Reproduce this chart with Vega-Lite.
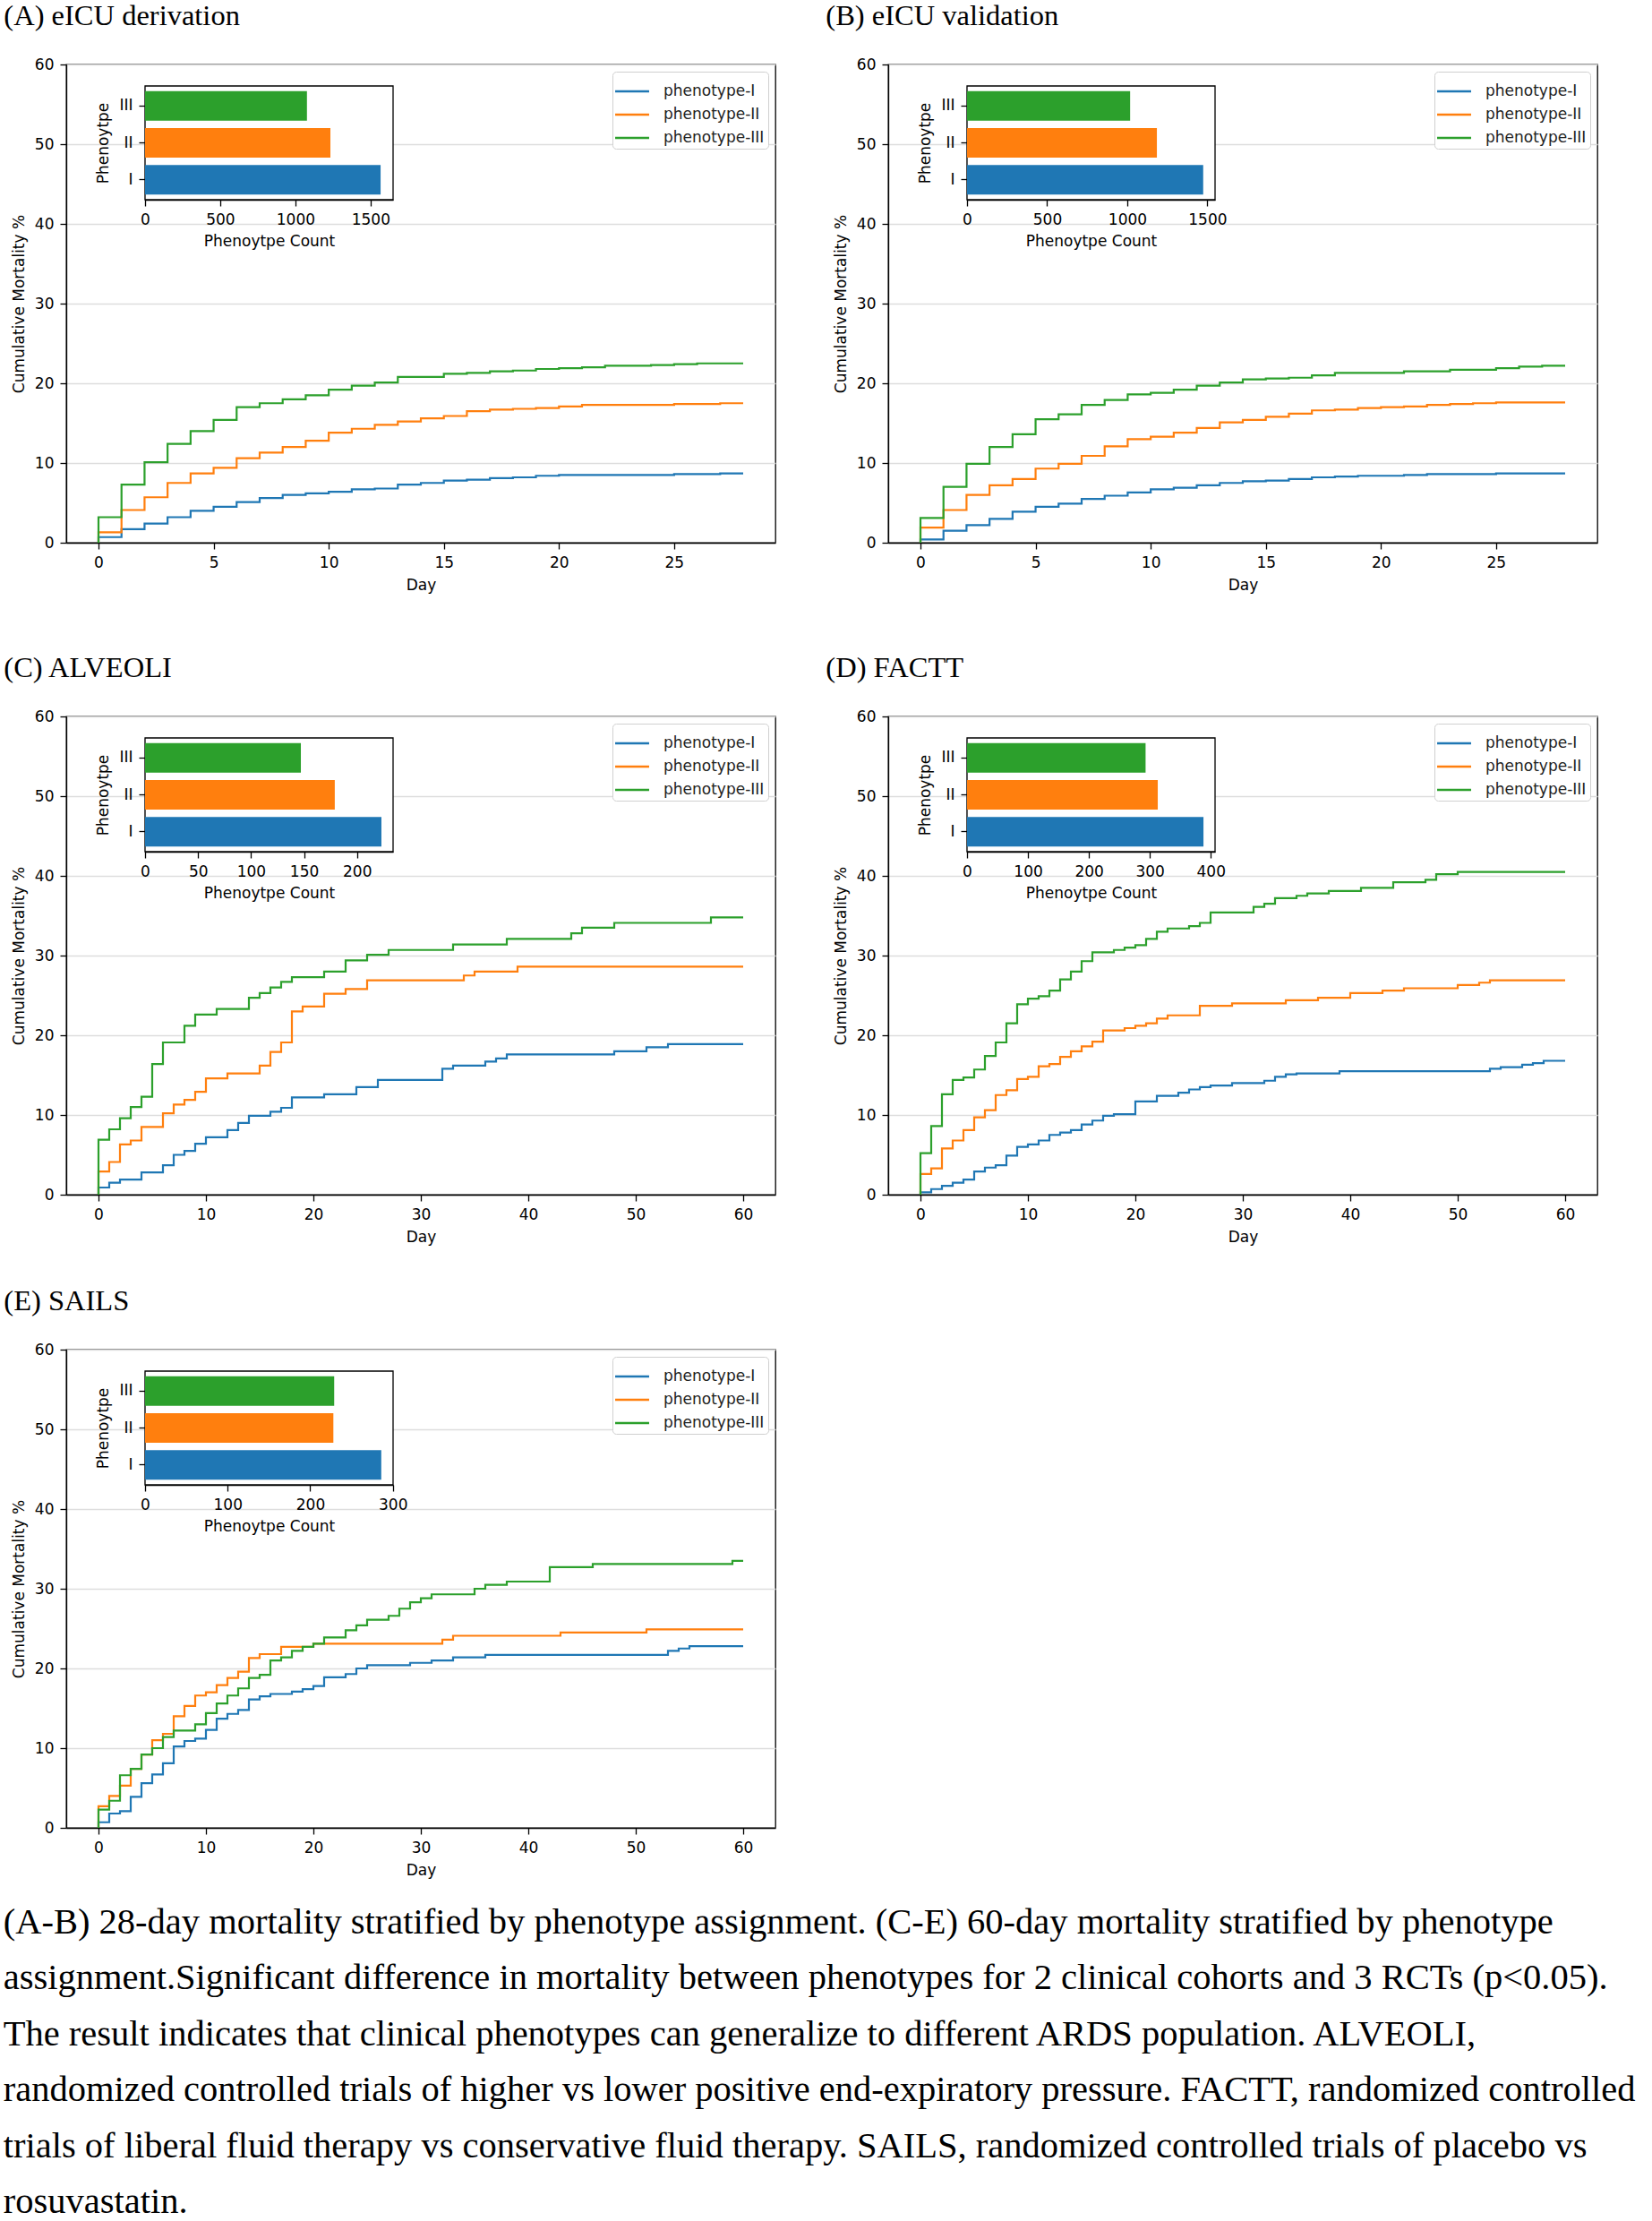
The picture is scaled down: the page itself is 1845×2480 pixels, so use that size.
{
"$schema": "https://vega.github.io/schema/vega-lite/v6.json",
"background": "white",
"padding": {"left": 3, "top": 0, "right": 0, "bottom": 0},
"datasets": {
"cA": [
{"phenotype":"phenotype-I","day":0,"mortality":0},{"phenotype":"phenotype-I","day":0,"mortality":0.7},{"phenotype":"phenotype-I","day":1,"mortality":1.7},{"phenotype":"phenotype-I","day":2,"mortality":2.4},{"phenotype":"phenotype-I","day":3,"mortality":3.2},{"phenotype":"phenotype-I","day":4,"mortality":4.0},{"phenotype":"phenotype-I","day":5,"mortality":4.5},{"phenotype":"phenotype-I","day":6,"mortality":5.1},{"phenotype":"phenotype-I","day":7,"mortality":5.6},{"phenotype":"phenotype-I","day":8,"mortality":6.0},{"phenotype":"phenotype-I","day":9,"mortality":6.2},{"phenotype":"phenotype-I","day":10,"mortality":6.4},{"phenotype":"phenotype-I","day":11,"mortality":6.7},{"phenotype":"phenotype-I","day":12,"mortality":6.8},{"phenotype":"phenotype-I","day":13,"mortality":7.3},{"phenotype":"phenotype-I","day":14,"mortality":7.5},{"phenotype":"phenotype-I","day":15,"mortality":7.8},{"phenotype":"phenotype-I","day":16,"mortality":7.9},{"phenotype":"phenotype-I","day":17,"mortality":8.1},{"phenotype":"phenotype-I","day":18,"mortality":8.2},{"phenotype":"phenotype-I","day":19,"mortality":8.4},{"phenotype":"phenotype-I","day":20,"mortality":8.5},{"phenotype":"phenotype-I","day":25,"mortality":8.6},{"phenotype":"phenotype-I","day":27,"mortality":8.7},{"phenotype":"phenotype-I","day":28,"mortality":8.7},
{"phenotype":"phenotype-II","day":0,"mortality":0},{"phenotype":"phenotype-II","day":0,"mortality":1.3},{"phenotype":"phenotype-II","day":1,"mortality":4.1},{"phenotype":"phenotype-II","day":2,"mortality":5.7},{"phenotype":"phenotype-II","day":3,"mortality":7.5},{"phenotype":"phenotype-II","day":4,"mortality":8.7},{"phenotype":"phenotype-II","day":5,"mortality":9.4},{"phenotype":"phenotype-II","day":6,"mortality":10.6},{"phenotype":"phenotype-II","day":7,"mortality":11.3},{"phenotype":"phenotype-II","day":8,"mortality":12.0},{"phenotype":"phenotype-II","day":9,"mortality":12.8},{"phenotype":"phenotype-II","day":10,"mortality":13.8},{"phenotype":"phenotype-II","day":11,"mortality":14.3},{"phenotype":"phenotype-II","day":12,"mortality":14.8},{"phenotype":"phenotype-II","day":13,"mortality":15.2},{"phenotype":"phenotype-II","day":14,"mortality":15.6},{"phenotype":"phenotype-II","day":15,"mortality":15.9},{"phenotype":"phenotype-II","day":16,"mortality":16.5},{"phenotype":"phenotype-II","day":17,"mortality":16.7},{"phenotype":"phenotype-II","day":18,"mortality":16.8},{"phenotype":"phenotype-II","day":19,"mortality":16.9},{"phenotype":"phenotype-II","day":20,"mortality":17.1},{"phenotype":"phenotype-II","day":21,"mortality":17.3},{"phenotype":"phenotype-II","day":25,"mortality":17.4},{"phenotype":"phenotype-II","day":27,"mortality":17.5},{"phenotype":"phenotype-II","day":28,"mortality":17.5},
{"phenotype":"phenotype-III","day":0,"mortality":0},{"phenotype":"phenotype-III","day":0,"mortality":3.2},{"phenotype":"phenotype-III","day":1,"mortality":7.3},{"phenotype":"phenotype-III","day":2,"mortality":10.1},{"phenotype":"phenotype-III","day":3,"mortality":12.4},{"phenotype":"phenotype-III","day":4,"mortality":14.0},{"phenotype":"phenotype-III","day":5,"mortality":15.4},{"phenotype":"phenotype-III","day":6,"mortality":17.0},{"phenotype":"phenotype-III","day":7,"mortality":17.5},{"phenotype":"phenotype-III","day":8,"mortality":18.0},{"phenotype":"phenotype-III","day":9,"mortality":18.5},{"phenotype":"phenotype-III","day":10,"mortality":19.2},{"phenotype":"phenotype-III","day":11,"mortality":19.7},{"phenotype":"phenotype-III","day":12,"mortality":20.1},{"phenotype":"phenotype-III","day":13,"mortality":20.8},{"phenotype":"phenotype-III","day":15,"mortality":21.2},{"phenotype":"phenotype-III","day":16,"mortality":21.3},{"phenotype":"phenotype-III","day":17,"mortality":21.5},{"phenotype":"phenotype-III","day":18,"mortality":21.6},{"phenotype":"phenotype-III","day":19,"mortality":21.8},{"phenotype":"phenotype-III","day":20,"mortality":21.9},{"phenotype":"phenotype-III","day":21,"mortality":22.0},{"phenotype":"phenotype-III","day":22,"mortality":22.2},{"phenotype":"phenotype-III","day":24,"mortality":22.3},{"phenotype":"phenotype-III","day":25,"mortality":22.4},{"phenotype":"phenotype-III","day":26,"mortality":22.5},{"phenotype":"phenotype-III","day":28,"mortality":22.5}
],
"cB": [
{"phenotype":"phenotype-I","day":0,"mortality":0},{"phenotype":"phenotype-I","day":0,"mortality":0.4},{"phenotype":"phenotype-I","day":1,"mortality":1.5},{"phenotype":"phenotype-I","day":2,"mortality":2.2},{"phenotype":"phenotype-I","day":3,"mortality":3.0},{"phenotype":"phenotype-I","day":4,"mortality":3.9},{"phenotype":"phenotype-I","day":5,"mortality":4.5},{"phenotype":"phenotype-I","day":6,"mortality":4.9},{"phenotype":"phenotype-I","day":7,"mortality":5.5},{"phenotype":"phenotype-I","day":8,"mortality":5.9},{"phenotype":"phenotype-I","day":9,"mortality":6.3},{"phenotype":"phenotype-I","day":10,"mortality":6.7},{"phenotype":"phenotype-I","day":11,"mortality":6.9},{"phenotype":"phenotype-I","day":12,"mortality":7.2},{"phenotype":"phenotype-I","day":13,"mortality":7.5},{"phenotype":"phenotype-I","day":14,"mortality":7.7},{"phenotype":"phenotype-I","day":15,"mortality":7.8},{"phenotype":"phenotype-I","day":16,"mortality":8.0},{"phenotype":"phenotype-I","day":17,"mortality":8.2},{"phenotype":"phenotype-I","day":18,"mortality":8.3},{"phenotype":"phenotype-I","day":19,"mortality":8.4},{"phenotype":"phenotype-I","day":21,"mortality":8.5},{"phenotype":"phenotype-I","day":22,"mortality":8.6},{"phenotype":"phenotype-I","day":25,"mortality":8.7},{"phenotype":"phenotype-I","day":28,"mortality":8.7},
{"phenotype":"phenotype-II","day":0,"mortality":0},{"phenotype":"phenotype-II","day":0,"mortality":1.9},{"phenotype":"phenotype-II","day":1,"mortality":4.1},{"phenotype":"phenotype-II","day":2,"mortality":6.0},{"phenotype":"phenotype-II","day":3,"mortality":7.2},{"phenotype":"phenotype-II","day":4,"mortality":8.0},{"phenotype":"phenotype-II","day":5,"mortality":9.3},{"phenotype":"phenotype-II","day":6,"mortality":9.9},{"phenotype":"phenotype-II","day":7,"mortality":10.9},{"phenotype":"phenotype-II","day":8,"mortality":12.1},{"phenotype":"phenotype-II","day":9,"mortality":13.0},{"phenotype":"phenotype-II","day":10,"mortality":13.3},{"phenotype":"phenotype-II","day":11,"mortality":13.8},{"phenotype":"phenotype-II","day":12,"mortality":14.4},{"phenotype":"phenotype-II","day":13,"mortality":15.1},{"phenotype":"phenotype-II","day":14,"mortality":15.4},{"phenotype":"phenotype-II","day":15,"mortality":15.8},{"phenotype":"phenotype-II","day":16,"mortality":16.2},{"phenotype":"phenotype-II","day":17,"mortality":16.6},{"phenotype":"phenotype-II","day":18,"mortality":16.7},{"phenotype":"phenotype-II","day":19,"mortality":16.9},{"phenotype":"phenotype-II","day":20,"mortality":17.0},{"phenotype":"phenotype-II","day":21,"mortality":17.1},{"phenotype":"phenotype-II","day":22,"mortality":17.3},{"phenotype":"phenotype-II","day":23,"mortality":17.4},{"phenotype":"phenotype-II","day":24,"mortality":17.5},{"phenotype":"phenotype-II","day":25,"mortality":17.6},{"phenotype":"phenotype-II","day":28,"mortality":17.6},
{"phenotype":"phenotype-III","day":0,"mortality":0},{"phenotype":"phenotype-III","day":0,"mortality":3.1},{"phenotype":"phenotype-III","day":1,"mortality":7.0},{"phenotype":"phenotype-III","day":2,"mortality":9.9},{"phenotype":"phenotype-III","day":3,"mortality":12.0},{"phenotype":"phenotype-III","day":4,"mortality":13.6},{"phenotype":"phenotype-III","day":5,"mortality":15.5},{"phenotype":"phenotype-III","day":6,"mortality":16.1},{"phenotype":"phenotype-III","day":7,"mortality":17.3},{"phenotype":"phenotype-III","day":8,"mortality":17.9},{"phenotype":"phenotype-III","day":9,"mortality":18.6},{"phenotype":"phenotype-III","day":10,"mortality":18.8},{"phenotype":"phenotype-III","day":11,"mortality":19.2},{"phenotype":"phenotype-III","day":12,"mortality":19.7},{"phenotype":"phenotype-III","day":13,"mortality":20.1},{"phenotype":"phenotype-III","day":14,"mortality":20.5},{"phenotype":"phenotype-III","day":15,"mortality":20.6},{"phenotype":"phenotype-III","day":16,"mortality":20.7},{"phenotype":"phenotype-III","day":17,"mortality":21.0},{"phenotype":"phenotype-III","day":18,"mortality":21.3},{"phenotype":"phenotype-III","day":21,"mortality":21.5},{"phenotype":"phenotype-III","day":23,"mortality":21.7},{"phenotype":"phenotype-III","day":25,"mortality":21.9},{"phenotype":"phenotype-III","day":26,"mortality":22.1},{"phenotype":"phenotype-III","day":27,"mortality":22.2},{"phenotype":"phenotype-III","day":28,"mortality":22.2}
],
"cC": [
{"phenotype":"phenotype-I","day":0,"mortality":0},{"phenotype":"phenotype-I","day":0,"mortality":0.9},{"phenotype":"phenotype-I","day":1,"mortality":1.5},{"phenotype":"phenotype-I","day":2,"mortality":1.9},{"phenotype":"phenotype-I","day":4,"mortality":2.8},{"phenotype":"phenotype-I","day":6,"mortality":3.7},{"phenotype":"phenotype-I","day":7,"mortality":5.0},{"phenotype":"phenotype-I","day":8,"mortality":5.5},{"phenotype":"phenotype-I","day":9,"mortality":6.4},{"phenotype":"phenotype-I","day":10,"mortality":7.2},{"phenotype":"phenotype-I","day":12,"mortality":8.1},{"phenotype":"phenotype-I","day":13,"mortality":9.0},{"phenotype":"phenotype-I","day":14,"mortality":9.9},{"phenotype":"phenotype-I","day":16,"mortality":10.4},{"phenotype":"phenotype-I","day":17,"mortality":10.9},{"phenotype":"phenotype-I","day":18,"mortality":12.2},{"phenotype":"phenotype-I","day":21,"mortality":12.6},{"phenotype":"phenotype-I","day":24,"mortality":13.5},{"phenotype":"phenotype-I","day":26,"mortality":14.4},{"phenotype":"phenotype-I","day":32,"mortality":15.8},{"phenotype":"phenotype-I","day":33,"mortality":16.2},{"phenotype":"phenotype-I","day":36,"mortality":16.7},{"phenotype":"phenotype-I","day":37,"mortality":17.1},{"phenotype":"phenotype-I","day":38,"mortality":17.6},{"phenotype":"phenotype-I","day":48,"mortality":18.0},{"phenotype":"phenotype-I","day":51,"mortality":18.5},{"phenotype":"phenotype-I","day":53,"mortality":18.9},{"phenotype":"phenotype-I","day":60,"mortality":18.9},
{"phenotype":"phenotype-II","day":0,"mortality":0},{"phenotype":"phenotype-II","day":0,"mortality":2.9},{"phenotype":"phenotype-II","day":1,"mortality":4.1},{"phenotype":"phenotype-II","day":2,"mortality":6.3},{"phenotype":"phenotype-II","day":3,"mortality":6.8},{"phenotype":"phenotype-II","day":4,"mortality":8.5},{"phenotype":"phenotype-II","day":6,"mortality":10.2},{"phenotype":"phenotype-II","day":7,"mortality":11.3},{"phenotype":"phenotype-II","day":8,"mortality":11.9},{"phenotype":"phenotype-II","day":9,"mortality":12.9},{"phenotype":"phenotype-II","day":10,"mortality":14.6},{"phenotype":"phenotype-II","day":12,"mortality":15.2},{"phenotype":"phenotype-II","day":15,"mortality":16.2},{"phenotype":"phenotype-II","day":16,"mortality":17.9},{"phenotype":"phenotype-II","day":17,"mortality":19.1},{"phenotype":"phenotype-II","day":18,"mortality":23.0},{"phenotype":"phenotype-II","day":19,"mortality":23.6},{"phenotype":"phenotype-II","day":21,"mortality":25.2},{"phenotype":"phenotype-II","day":23,"mortality":25.8},{"phenotype":"phenotype-II","day":25,"mortality":26.9},{"phenotype":"phenotype-II","day":34,"mortality":27.5},{"phenotype":"phenotype-II","day":35,"mortality":28.0},{"phenotype":"phenotype-II","day":39,"mortality":28.6},{"phenotype":"phenotype-II","day":60,"mortality":28.6},
{"phenotype":"phenotype-III","day":0,"mortality":0},{"phenotype":"phenotype-III","day":0,"mortality":6.9},{"phenotype":"phenotype-III","day":1,"mortality":8.2},{"phenotype":"phenotype-III","day":2,"mortality":9.6},{"phenotype":"phenotype-III","day":3,"mortality":11.0},{"phenotype":"phenotype-III","day":4,"mortality":12.3},{"phenotype":"phenotype-III","day":5,"mortality":16.4},{"phenotype":"phenotype-III","day":6,"mortality":19.1},{"phenotype":"phenotype-III","day":8,"mortality":21.2},{"phenotype":"phenotype-III","day":9,"mortality":22.6},{"phenotype":"phenotype-III","day":11,"mortality":23.3},{"phenotype":"phenotype-III","day":14,"mortality":24.7},{"phenotype":"phenotype-III","day":15,"mortality":25.3},{"phenotype":"phenotype-III","day":16,"mortality":26.0},{"phenotype":"phenotype-III","day":17,"mortality":26.7},{"phenotype":"phenotype-III","day":18,"mortality":27.3},{"phenotype":"phenotype-III","day":21,"mortality":28.0},{"phenotype":"phenotype-III","day":23,"mortality":29.4},{"phenotype":"phenotype-III","day":25,"mortality":30.1},{"phenotype":"phenotype-III","day":27,"mortality":30.7},{"phenotype":"phenotype-III","day":33,"mortality":31.4},{"phenotype":"phenotype-III","day":38,"mortality":32.1},{"phenotype":"phenotype-III","day":44,"mortality":32.8},{"phenotype":"phenotype-III","day":45,"mortality":33.5},{"phenotype":"phenotype-III","day":48,"mortality":34.1},{"phenotype":"phenotype-III","day":57,"mortality":34.8},{"phenotype":"phenotype-III","day":60,"mortality":34.8}
],
"cD": [
{"phenotype":"phenotype-I","day":0,"mortality":0},{"phenotype":"phenotype-I","day":0,"mortality":0.3},{"phenotype":"phenotype-I","day":1,"mortality":0.7},{"phenotype":"phenotype-I","day":2,"mortality":1.1},{"phenotype":"phenotype-I","day":3,"mortality":1.5},{"phenotype":"phenotype-I","day":4,"mortality":1.9},{"phenotype":"phenotype-I","day":5,"mortality":2.9},{"phenotype":"phenotype-I","day":6,"mortality":3.4},{"phenotype":"phenotype-I","day":7,"mortality":3.7},{"phenotype":"phenotype-I","day":8,"mortality":4.9},{"phenotype":"phenotype-I","day":9,"mortality":6.0},{"phenotype":"phenotype-I","day":10,"mortality":6.3},{"phenotype":"phenotype-I","day":11,"mortality":6.8},{"phenotype":"phenotype-I","day":12,"mortality":7.5},{"phenotype":"phenotype-I","day":13,"mortality":7.8},{"phenotype":"phenotype-I","day":14,"mortality":8.1},{"phenotype":"phenotype-I","day":15,"mortality":8.8},{"phenotype":"phenotype-I","day":16,"mortality":9.3},{"phenotype":"phenotype-I","day":17,"mortality":9.9},{"phenotype":"phenotype-I","day":18,"mortality":10.1},{"phenotype":"phenotype-I","day":20,"mortality":11.7},{"phenotype":"phenotype-I","day":22,"mortality":12.4},{"phenotype":"phenotype-I","day":24,"mortality":12.8},{"phenotype":"phenotype-I","day":25,"mortality":13.2},{"phenotype":"phenotype-I","day":26,"mortality":13.5},{"phenotype":"phenotype-I","day":27,"mortality":13.7},{"phenotype":"phenotype-I","day":29,"mortality":14.0},{"phenotype":"phenotype-I","day":32,"mortality":14.3},{"phenotype":"phenotype-I","day":33,"mortality":14.8},{"phenotype":"phenotype-I","day":34,"mortality":15.1},{"phenotype":"phenotype-I","day":35,"mortality":15.2},{"phenotype":"phenotype-I","day":39,"mortality":15.5},{"phenotype":"phenotype-I","day":53,"mortality":15.8},{"phenotype":"phenotype-I","day":54,"mortality":16.0},{"phenotype":"phenotype-I","day":56,"mortality":16.3},{"phenotype":"phenotype-I","day":57,"mortality":16.5},{"phenotype":"phenotype-I","day":58,"mortality":16.8},{"phenotype":"phenotype-I","day":60,"mortality":16.8},
{"phenotype":"phenotype-II","day":0,"mortality":0},{"phenotype":"phenotype-II","day":0,"mortality":2.6},{"phenotype":"phenotype-II","day":1,"mortality":3.3},{"phenotype":"phenotype-II","day":2,"mortality":5.8},{"phenotype":"phenotype-II","day":3,"mortality":6.8},{"phenotype":"phenotype-II","day":4,"mortality":8.1},{"phenotype":"phenotype-II","day":5,"mortality":9.7},{"phenotype":"phenotype-II","day":6,"mortality":10.6},{"phenotype":"phenotype-II","day":7,"mortality":12.5},{"phenotype":"phenotype-II","day":8,"mortality":13.1},{"phenotype":"phenotype-II","day":9,"mortality":14.5},{"phenotype":"phenotype-II","day":10,"mortality":14.8},{"phenotype":"phenotype-II","day":11,"mortality":16.1},{"phenotype":"phenotype-II","day":12,"mortality":16.4},{"phenotype":"phenotype-II","day":13,"mortality":17.3},{"phenotype":"phenotype-II","day":14,"mortality":18.0},{"phenotype":"phenotype-II","day":15,"mortality":18.6},{"phenotype":"phenotype-II","day":16,"mortality":19.2},{"phenotype":"phenotype-II","day":17,"mortality":20.6},{"phenotype":"phenotype-II","day":19,"mortality":20.9},{"phenotype":"phenotype-II","day":20,"mortality":21.2},{"phenotype":"phenotype-II","day":21,"mortality":21.5},{"phenotype":"phenotype-II","day":22,"mortality":22.1},{"phenotype":"phenotype-II","day":23,"mortality":22.5},{"phenotype":"phenotype-II","day":26,"mortality":23.7},{"phenotype":"phenotype-II","day":29,"mortality":24.0},{"phenotype":"phenotype-II","day":34,"mortality":24.4},{"phenotype":"phenotype-II","day":37,"mortality":24.7},{"phenotype":"phenotype-II","day":40,"mortality":25.3},{"phenotype":"phenotype-II","day":43,"mortality":25.6},{"phenotype":"phenotype-II","day":45,"mortality":25.9},{"phenotype":"phenotype-II","day":50,"mortality":26.3},{"phenotype":"phenotype-II","day":52,"mortality":26.6},{"phenotype":"phenotype-II","day":53,"mortality":26.9},{"phenotype":"phenotype-II","day":60,"mortality":26.9},
{"phenotype":"phenotype-III","day":0,"mortality":0},{"phenotype":"phenotype-III","day":0,"mortality":5.2},{"phenotype":"phenotype-III","day":1,"mortality":8.6},{"phenotype":"phenotype-III","day":2,"mortality":12.6},{"phenotype":"phenotype-III","day":3,"mortality":14.4},{"phenotype":"phenotype-III","day":4,"mortality":14.7},{"phenotype":"phenotype-III","day":5,"mortality":15.7},{"phenotype":"phenotype-III","day":6,"mortality":17.4},{"phenotype":"phenotype-III","day":7,"mortality":19.1},{"phenotype":"phenotype-III","day":8,"mortality":21.5},{"phenotype":"phenotype-III","day":9,"mortality":23.9},{"phenotype":"phenotype-III","day":10,"mortality":24.6},{"phenotype":"phenotype-III","day":11,"mortality":24.9},{"phenotype":"phenotype-III","day":12,"mortality":25.6},{"phenotype":"phenotype-III","day":13,"mortality":27.0},{"phenotype":"phenotype-III","day":14,"mortality":28.0},{"phenotype":"phenotype-III","day":15,"mortality":29.3},{"phenotype":"phenotype-III","day":16,"mortality":30.4},{"phenotype":"phenotype-III","day":18,"mortality":30.7},{"phenotype":"phenotype-III","day":19,"mortality":31.0},{"phenotype":"phenotype-III","day":20,"mortality":31.3},{"phenotype":"phenotype-III","day":21,"mortality":32.1},{"phenotype":"phenotype-III","day":22,"mortality":33.0},{"phenotype":"phenotype-III","day":23,"mortality":33.4},{"phenotype":"phenotype-III","day":25,"mortality":33.7},{"phenotype":"phenotype-III","day":26,"mortality":34.1},{"phenotype":"phenotype-III","day":27,"mortality":35.4},{"phenotype":"phenotype-III","day":31,"mortality":36.1},{"phenotype":"phenotype-III","day":32,"mortality":36.5},{"phenotype":"phenotype-III","day":33,"mortality":37.2},{"phenotype":"phenotype-III","day":35,"mortality":37.5},{"phenotype":"phenotype-III","day":36,"mortality":37.8},{"phenotype":"phenotype-III","day":38,"mortality":38.1},{"phenotype":"phenotype-III","day":41,"mortality":38.5},{"phenotype":"phenotype-III","day":44,"mortality":39.2},{"phenotype":"phenotype-III","day":47,"mortality":39.5},{"phenotype":"phenotype-III","day":48,"mortality":40.2},{"phenotype":"phenotype-III","day":50,"mortality":40.5},{"phenotype":"phenotype-III","day":60,"mortality":40.5}
],
"cE": [
{"phenotype":"phenotype-I","day":0,"mortality":0},{"phenotype":"phenotype-I","day":0,"mortality":0.7},{"phenotype":"phenotype-I","day":1,"mortality":1.8},{"phenotype":"phenotype-I","day":2,"mortality":2.1},{"phenotype":"phenotype-I","day":3,"mortality":3.9},{"phenotype":"phenotype-I","day":4,"mortality":5.6},{"phenotype":"phenotype-I","day":5,"mortality":6.7},{"phenotype":"phenotype-I","day":6,"mortality":8.1},{"phenotype":"phenotype-I","day":7,"mortality":10.2},{"phenotype":"phenotype-I","day":8,"mortality":10.9},{"phenotype":"phenotype-I","day":9,"mortality":11.2},{"phenotype":"phenotype-I","day":10,"mortality":12.3},{"phenotype":"phenotype-I","day":11,"mortality":13.7},{"phenotype":"phenotype-I","day":12,"mortality":14.3},{"phenotype":"phenotype-I","day":13,"mortality":14.8},{"phenotype":"phenotype-I","day":14,"mortality":16.1},{"phenotype":"phenotype-I","day":15,"mortality":16.5},{"phenotype":"phenotype-I","day":16,"mortality":16.8},{"phenotype":"phenotype-I","day":18,"mortality":17.1},{"phenotype":"phenotype-I","day":19,"mortality":17.4},{"phenotype":"phenotype-I","day":20,"mortality":17.8},{"phenotype":"phenotype-I","day":21,"mortality":18.9},{"phenotype":"phenotype-I","day":23,"mortality":19.3},{"phenotype":"phenotype-I","day":24,"mortality":20.0},{"phenotype":"phenotype-I","day":25,"mortality":20.4},{"phenotype":"phenotype-I","day":29,"mortality":20.7},{"phenotype":"phenotype-I","day":31,"mortality":21.0},{"phenotype":"phenotype-I","day":33,"mortality":21.4},{"phenotype":"phenotype-I","day":36,"mortality":21.7},{"phenotype":"phenotype-I","day":53,"mortality":22.2},{"phenotype":"phenotype-I","day":54,"mortality":22.5},{"phenotype":"phenotype-I","day":55,"mortality":22.8},{"phenotype":"phenotype-I","day":60,"mortality":22.8},
{"phenotype":"phenotype-II","day":0,"mortality":0},{"phenotype":"phenotype-II","day":0,"mortality":2.7},{"phenotype":"phenotype-II","day":1,"mortality":4.0},{"phenotype":"phenotype-II","day":2,"mortality":5.3},{"phenotype":"phenotype-II","day":3,"mortality":7.4},{"phenotype":"phenotype-II","day":4,"mortality":9.2},{"phenotype":"phenotype-II","day":5,"mortality":11.0},{"phenotype":"phenotype-II","day":6,"mortality":11.8},{"phenotype":"phenotype-II","day":7,"mortality":14.0},{"phenotype":"phenotype-II","day":8,"mortality":15.3},{"phenotype":"phenotype-II","day":9,"mortality":16.6},{"phenotype":"phenotype-II","day":10,"mortality":17.0},{"phenotype":"phenotype-II","day":11,"mortality":17.9},{"phenotype":"phenotype-II","day":12,"mortality":18.8},{"phenotype":"phenotype-II","day":13,"mortality":19.6},{"phenotype":"phenotype-II","day":14,"mortality":21.3},{"phenotype":"phenotype-II","day":15,"mortality":21.8},{"phenotype":"phenotype-II","day":17,"mortality":22.7},{"phenotype":"phenotype-II","day":20,"mortality":23.1},{"phenotype":"phenotype-II","day":32,"mortality":23.6},{"phenotype":"phenotype-II","day":33,"mortality":24.1},{"phenotype":"phenotype-II","day":43,"mortality":24.5},{"phenotype":"phenotype-II","day":51,"mortality":24.9},{"phenotype":"phenotype-II","day":60,"mortality":24.9},
{"phenotype":"phenotype-III","day":0,"mortality":0},{"phenotype":"phenotype-III","day":0,"mortality":2.3},{"phenotype":"phenotype-III","day":1,"mortality":3.4},{"phenotype":"phenotype-III","day":2,"mortality":6.6},{"phenotype":"phenotype-III","day":3,"mortality":7.4},{"phenotype":"phenotype-III","day":4,"mortality":9.2},{"phenotype":"phenotype-III","day":5,"mortality":10.0},{"phenotype":"phenotype-III","day":6,"mortality":11.4},{"phenotype":"phenotype-III","day":7,"mortality":12.2},{"phenotype":"phenotype-III","day":9,"mortality":13.0},{"phenotype":"phenotype-III","day":10,"mortality":14.4},{"phenotype":"phenotype-III","day":11,"mortality":15.6},{"phenotype":"phenotype-III","day":12,"mortality":16.6},{"phenotype":"phenotype-III","day":13,"mortality":17.5},{"phenotype":"phenotype-III","day":14,"mortality":18.8},{"phenotype":"phenotype-III","day":15,"mortality":19.2},{"phenotype":"phenotype-III","day":16,"mortality":21.0},{"phenotype":"phenotype-III","day":17,"mortality":21.4},{"phenotype":"phenotype-III","day":18,"mortality":22.2},{"phenotype":"phenotype-III","day":19,"mortality":22.7},{"phenotype":"phenotype-III","day":20,"mortality":23.1},{"phenotype":"phenotype-III","day":21,"mortality":23.9},{"phenotype":"phenotype-III","day":23,"mortality":24.8},{"phenotype":"phenotype-III","day":24,"mortality":25.4},{"phenotype":"phenotype-III","day":25,"mortality":26.1},{"phenotype":"phenotype-III","day":27,"mortality":26.6},{"phenotype":"phenotype-III","day":28,"mortality":27.5},{"phenotype":"phenotype-III","day":29,"mortality":28.3},{"phenotype":"phenotype-III","day":30,"mortality":28.8},{"phenotype":"phenotype-III","day":31,"mortality":29.3},{"phenotype":"phenotype-III","day":35,"mortality":30.0},{"phenotype":"phenotype-III","day":36,"mortality":30.5},{"phenotype":"phenotype-III","day":38,"mortality":30.9},{"phenotype":"phenotype-III","day":42,"mortality":32.7},{"phenotype":"phenotype-III","day":46,"mortality":33.1},{"phenotype":"phenotype-III","day":59,"mortality":33.5},{"phenotype":"phenotype-III","day":60,"mortality":33.5}
],
"nA": [{"phenotype":"I","count":1567},{"phenotype":"II","count":1233},{"phenotype":"III","count":1077}],
"nB": [{"phenotype":"I","count":1474},{"phenotype":"II","count":1185},{"phenotype":"III","count":1018}],
"nC": [{"phenotype":"I","count":223},{"phenotype":"II","count":179},{"phenotype":"III","count":147}],
"nD": [{"phenotype":"I","count":388},{"phenotype":"II","count":313},{"phenotype":"III","count":293}],
"nE": [{"phenotype":"I","count":286},{"phenotype":"II","count":228},{"phenotype":"III","count":229}],
"box": [{"corner":"inset"}]
},
"title": {
"text": [
"(A-B) 28-day mortality stratified by phenotype assignment. (C-E) 60-day mortality stratified by phenotype",
"assignment.Significant difference in mortality between phenotypes for 2 clinical cohorts and 3 RCTs (p<0.05).",
"The result indicates that clinical phenotypes can generalize to different ARDS population. ALVEOLI,",
"randomized controlled trials of higher vs lower positive end-expiratory pressure. FACTT, randomized controlled",
"trials of liberal fluid therapy vs conservative fluid therapy. SAILS, randomized controlled trials of placebo vs",
"rosuvastatin."
],
"orient": "bottom", "anchor": "start", "frame": "bounds", "font": "Liberation Serif", "fontSize": 40.5, "fontWeight": "normal", "lineHeight": 62.5, "offset": 30, "dx": 0, "color": "black", "baseline": "top"
},
"vconcat": [
{"vconcat": [
{"vconcat": [
{"hconcat": [
{"title": {"text": "(A) eICU derivation"}, "width": 792, "height": 534,
"layer": [
{"data": {"name": "cA"}, "mark": {"type": "line", "interpolate": "step-after", "strokeWidth": 2.2},
"encoding": {"x": {"field": "day", "type": "quantitative", "scale": {"domain": [-1.4, 29.4], "nice": false, "zero": false}, "axis": {"values": [0,5,10,15,20,25], "title": "Day", "grid": false, "titlePadding": 9}},
"y": {"field": "mortality", "type": "quantitative", "scale": {"domain": [0, 60], "nice": false}, "axis": {"values": [0,10,20,30,40,50,60], "title": "Cumulative Mortality %", "grid": true}},
"color": {"field": "phenotype", "type": "nominal", "scale": {"domain": ["phenotype-I","phenotype-II","phenotype-III"], "range": ["#1f77b4","#ff7f0e","#2ca02c"]}}}},
{"data": {"name": "box"}, "mark": {"type": "rect", "fill": "white", "stroke": "black", "strokeWidth": 1.3},
"encoding": {"x": {"datum": 0, "type": "quantitative", "scale": {"domain": [0,1], "range": [88, 365]}, "axis": null}, "x2": {"datum": 1}, "y": {"datum": 0, "type": "quantitative", "scale": {"domain": [0,1], "range": [151, 24]}, "axis": null}, "y2": {"datum": 1}}},
{"data": {"name": "nA"}, "mark": {"type": "bar"},
"encoding": {"x": {"field": "count", "type": "quantitative", "scale": {"domain": [0, 1650], "range": [88, 365], "nice": false}, "axis": {"orient": "bottom", "offset": -383, "values": [0,500,1000,1500], "format": "d", "title": "Phenoytpe Count", "grid": false}},
"y": {"field": "phenotype", "type": "nominal", "sort": ["III","II","I"], "scale": {"range": [24, 151], "paddingInner": 0.2, "paddingOuter": 0.14}, "axis": {"orient": "left", "offset": -88, "title": "Phenoytpe", "grid": false, "labelAngle": 0, "titlePadding": 8}},
"color": {"field": "phenotype", "type": "nominal", "scale": {"domain": ["I","II","III"], "range": ["#1f77b4","#ff7f0e","#2ca02c"]}, "legend": null}}}
],
"resolve": {"scale": {"x": "independent", "y": "independent", "color": "independent"}}},
{"title": {"text": "(B) eICU validation"}, "width": 792, "height": 534,
"layer": [
{"data": {"name": "cB"}, "mark": {"type": "line", "interpolate": "step-after", "strokeWidth": 2.2},
"encoding": {"x": {"field": "day", "type": "quantitative", "scale": {"domain": [-1.4, 29.4], "nice": false, "zero": false}, "axis": {"values": [0,5,10,15,20,25], "title": "Day", "grid": false, "titlePadding": 9}},
"y": {"field": "mortality", "type": "quantitative", "scale": {"domain": [0, 60], "nice": false}, "axis": {"values": [0,10,20,30,40,50,60], "title": "Cumulative Mortality %", "grid": true}},
"color": {"field": "phenotype", "type": "nominal", "scale": {"domain": ["phenotype-I","phenotype-II","phenotype-III"], "range": ["#1f77b4","#ff7f0e","#2ca02c"]}}}},
{"data": {"name": "box"}, "mark": {"type": "rect", "fill": "white", "stroke": "black", "strokeWidth": 1.3},
"encoding": {"x": {"datum": 0, "type": "quantitative", "scale": {"domain": [0,1], "range": [88, 365]}, "axis": null}, "x2": {"datum": 1}, "y": {"datum": 0, "type": "quantitative", "scale": {"domain": [0,1], "range": [151, 24]}, "axis": null}, "y2": {"datum": 1}}},
{"data": {"name": "nB"}, "mark": {"type": "bar"},
"encoding": {"x": {"field": "count", "type": "quantitative", "scale": {"domain": [0, 1548], "range": [88, 365], "nice": false}, "axis": {"orient": "bottom", "offset": -383, "values": [0,500,1000,1500], "format": "d", "title": "Phenoytpe Count", "grid": false}},
"y": {"field": "phenotype", "type": "nominal", "sort": ["III","II","I"], "scale": {"range": [24, 151], "paddingInner": 0.2, "paddingOuter": 0.14}, "axis": {"orient": "left", "offset": -88, "title": "Phenoytpe", "grid": false, "labelAngle": 0, "titlePadding": 8}},
"color": {"field": "phenotype", "type": "nominal", "scale": {"domain": ["I","II","III"], "range": ["#1f77b4","#ff7f0e","#2ca02c"]}, "legend": null}}}
],
"resolve": {"scale": {"x": "independent", "y": "independent", "color": "independent"}}}
], "spacing": 54},
{"hconcat": [
{"title": {"text": "(C) ALVEOLI"}, "width": 792, "height": 534,
"layer": [
{"data": {"name": "cC"}, "mark": {"type": "line", "interpolate": "step-after", "strokeWidth": 2.2},
"encoding": {"x": {"field": "day", "type": "quantitative", "scale": {"domain": [-3, 63], "nice": false, "zero": false}, "axis": {"values": [0,10,20,30,40,50,60], "title": "Day", "grid": false, "titlePadding": 9}},
"y": {"field": "mortality", "type": "quantitative", "scale": {"domain": [0, 60], "nice": false}, "axis": {"values": [0,10,20,30,40,50,60], "title": "Cumulative Mortality %", "grid": true}},
"color": {"field": "phenotype", "type": "nominal", "scale": {"domain": ["phenotype-I","phenotype-II","phenotype-III"], "range": ["#1f77b4","#ff7f0e","#2ca02c"]}}}},
{"data": {"name": "box"}, "mark": {"type": "rect", "fill": "white", "stroke": "black", "strokeWidth": 1.3},
"encoding": {"x": {"datum": 0, "type": "quantitative", "scale": {"domain": [0,1], "range": [88, 365]}, "axis": null}, "x2": {"datum": 1}, "y": {"datum": 0, "type": "quantitative", "scale": {"domain": [0,1], "range": [151, 24]}, "axis": null}, "y2": {"datum": 1}}},
{"data": {"name": "nC"}, "mark": {"type": "bar"},
"encoding": {"x": {"field": "count", "type": "quantitative", "scale": {"domain": [0, 234], "range": [88, 365], "nice": false}, "axis": {"orient": "bottom", "offset": -383, "values": [0,50,100,150,200], "format": "d", "title": "Phenoytpe Count", "grid": false}},
"y": {"field": "phenotype", "type": "nominal", "sort": ["III","II","I"], "scale": {"range": [24, 151], "paddingInner": 0.2, "paddingOuter": 0.14}, "axis": {"orient": "left", "offset": -88, "title": "Phenoytpe", "grid": false, "labelAngle": 0, "titlePadding": 8}},
"color": {"field": "phenotype", "type": "nominal", "scale": {"domain": ["I","II","III"], "range": ["#1f77b4","#ff7f0e","#2ca02c"]}, "legend": null}}}
],
"resolve": {"scale": {"x": "independent", "y": "independent", "color": "independent"}}},
{"title": {"text": "(D) FACTT"}, "width": 792, "height": 534,
"layer": [
{"data": {"name": "cD"}, "mark": {"type": "line", "interpolate": "step-after", "strokeWidth": 2.2},
"encoding": {"x": {"field": "day", "type": "quantitative", "scale": {"domain": [-3, 63], "nice": false, "zero": false}, "axis": {"values": [0,10,20,30,40,50,60], "title": "Day", "grid": false, "titlePadding": 9}},
"y": {"field": "mortality", "type": "quantitative", "scale": {"domain": [0, 60], "nice": false}, "axis": {"values": [0,10,20,30,40,50,60], "title": "Cumulative Mortality %", "grid": true}},
"color": {"field": "phenotype", "type": "nominal", "scale": {"domain": ["phenotype-I","phenotype-II","phenotype-III"], "range": ["#1f77b4","#ff7f0e","#2ca02c"]}}}},
{"data": {"name": "box"}, "mark": {"type": "rect", "fill": "white", "stroke": "black", "strokeWidth": 1.3},
"encoding": {"x": {"datum": 0, "type": "quantitative", "scale": {"domain": [0,1], "range": [88, 365]}, "axis": null}, "x2": {"datum": 1}, "y": {"datum": 0, "type": "quantitative", "scale": {"domain": [0,1], "range": [151, 24]}, "axis": null}, "y2": {"datum": 1}}},
{"data": {"name": "nD"}, "mark": {"type": "bar"},
"encoding": {"x": {"field": "count", "type": "quantitative", "scale": {"domain": [0, 407], "range": [88, 365], "nice": false}, "axis": {"orient": "bottom", "offset": -383, "values": [0,100,200,300,400], "format": "d", "title": "Phenoytpe Count", "grid": false}},
"y": {"field": "phenotype", "type": "nominal", "sort": ["III","II","I"], "scale": {"range": [24, 151], "paddingInner": 0.2, "paddingOuter": 0.14}, "axis": {"orient": "left", "offset": -88, "title": "Phenoytpe", "grid": false, "labelAngle": 0, "titlePadding": 8}},
"color": {"field": "phenotype", "type": "nominal", "scale": {"domain": ["I","II","III"], "range": ["#1f77b4","#ff7f0e","#2ca02c"]}, "legend": null}}}
],
"resolve": {"scale": {"x": "independent", "y": "independent", "color": "independent"}}}
], "spacing": 54}
], "spacing": 66},
{"title": {"text": "(E) SAILS"}, "width": 792, "height": 534,
"layer": [
{"data": {"name": "cE"}, "mark": {"type": "line", "interpolate": "step-after", "strokeWidth": 2.2},
"encoding": {"x": {"field": "day", "type": "quantitative", "scale": {"domain": [-3, 63], "nice": false, "zero": false}, "axis": {"values": [0,10,20,30,40,50,60], "title": "Day", "grid": false, "titlePadding": 9}},
"y": {"field": "mortality", "type": "quantitative", "scale": {"domain": [0, 60], "nice": false}, "axis": {"values": [0,10,20,30,40,50,60], "title": "Cumulative Mortality %", "grid": true}},
"color": {"field": "phenotype", "type": "nominal", "scale": {"domain": ["phenotype-I","phenotype-II","phenotype-III"], "range": ["#1f77b4","#ff7f0e","#2ca02c"]}}}},
{"data": {"name": "box"}, "mark": {"type": "rect", "fill": "white", "stroke": "black", "strokeWidth": 1.3},
"encoding": {"x": {"datum": 0, "type": "quantitative", "scale": {"domain": [0,1], "range": [88, 365]}, "axis": null}, "x2": {"datum": 1}, "y": {"datum": 0, "type": "quantitative", "scale": {"domain": [0,1], "range": [151, 24]}, "axis": null}, "y2": {"datum": 1}}},
{"data": {"name": "nE"}, "mark": {"type": "bar"},
"encoding": {"x": {"field": "count", "type": "quantitative", "scale": {"domain": [0, 300.3], "range": [88, 365], "nice": false}, "axis": {"orient": "bottom", "offset": -383, "values": [0,100,200,300], "format": "d", "title": "Phenoytpe Count", "grid": false}},
"y": {"field": "phenotype", "type": "nominal", "sort": ["III","II","I"], "scale": {"range": [24, 151], "paddingInner": 0.2, "paddingOuter": 0.14}, "axis": {"orient": "left", "offset": -88, "title": "Phenoytpe", "grid": false, "labelAngle": 0, "titlePadding": 8}},
"color": {"field": "phenotype", "type": "nominal", "scale": {"domain": ["I","II","III"], "range": ["#1f77b4","#ff7f0e","#2ca02c"]}, "legend": null}}}
],
"resolve": {"scale": {"x": "independent", "y": "independent", "color": "independent"}}}
], "spacing": 45}
],
"config": {
"view": {"stroke": "black", "strokeWidth": 1.3},
"axis": {"labelFont": "DejaVu Sans", "labelFontSize": 17, "labelColor": "black", "titleFont": "DejaVu Sans", "titleFontSize": 17, "titleFontWeight": "normal", "titleColor": "black", "tickColor": "black", "tickSize": 7, "tickWidth": 1.3, "domainColor": "black", "domainWidth": 1.3, "gridColor": "#dddddd", "gridWidth": 1.5, "labelFlush": false, "labelOverlap": false, "labelPadding": 7, "titlePadding": 8},
"title": {"font": "Liberation Serif", "fontSize": 32.5, "fontWeight": "normal", "anchor": "start", "frame": "bounds", "color": "black", "dx": -8, "offset": 29},
"legend": {"orient": "top-right", "offset": 8, "title": null, "fillColor": "white", "strokeColor": "#d0d0d0", "strokeWidth": 1, "cornerRadius": 4, "padding": 4, "symbolType": "M-1.15,0H1.15", "symbolSize": 1089, "symbolStrokeWidth": 2.5, "symbolFillColor": "transparent", "labelFont": "DejaVu Sans", "labelFontSize": 17, "labelColor": "#222222", "labelOffset": 17, "rowPadding": 0, "labelExpr": "datum.label + '  '"}
}
}
